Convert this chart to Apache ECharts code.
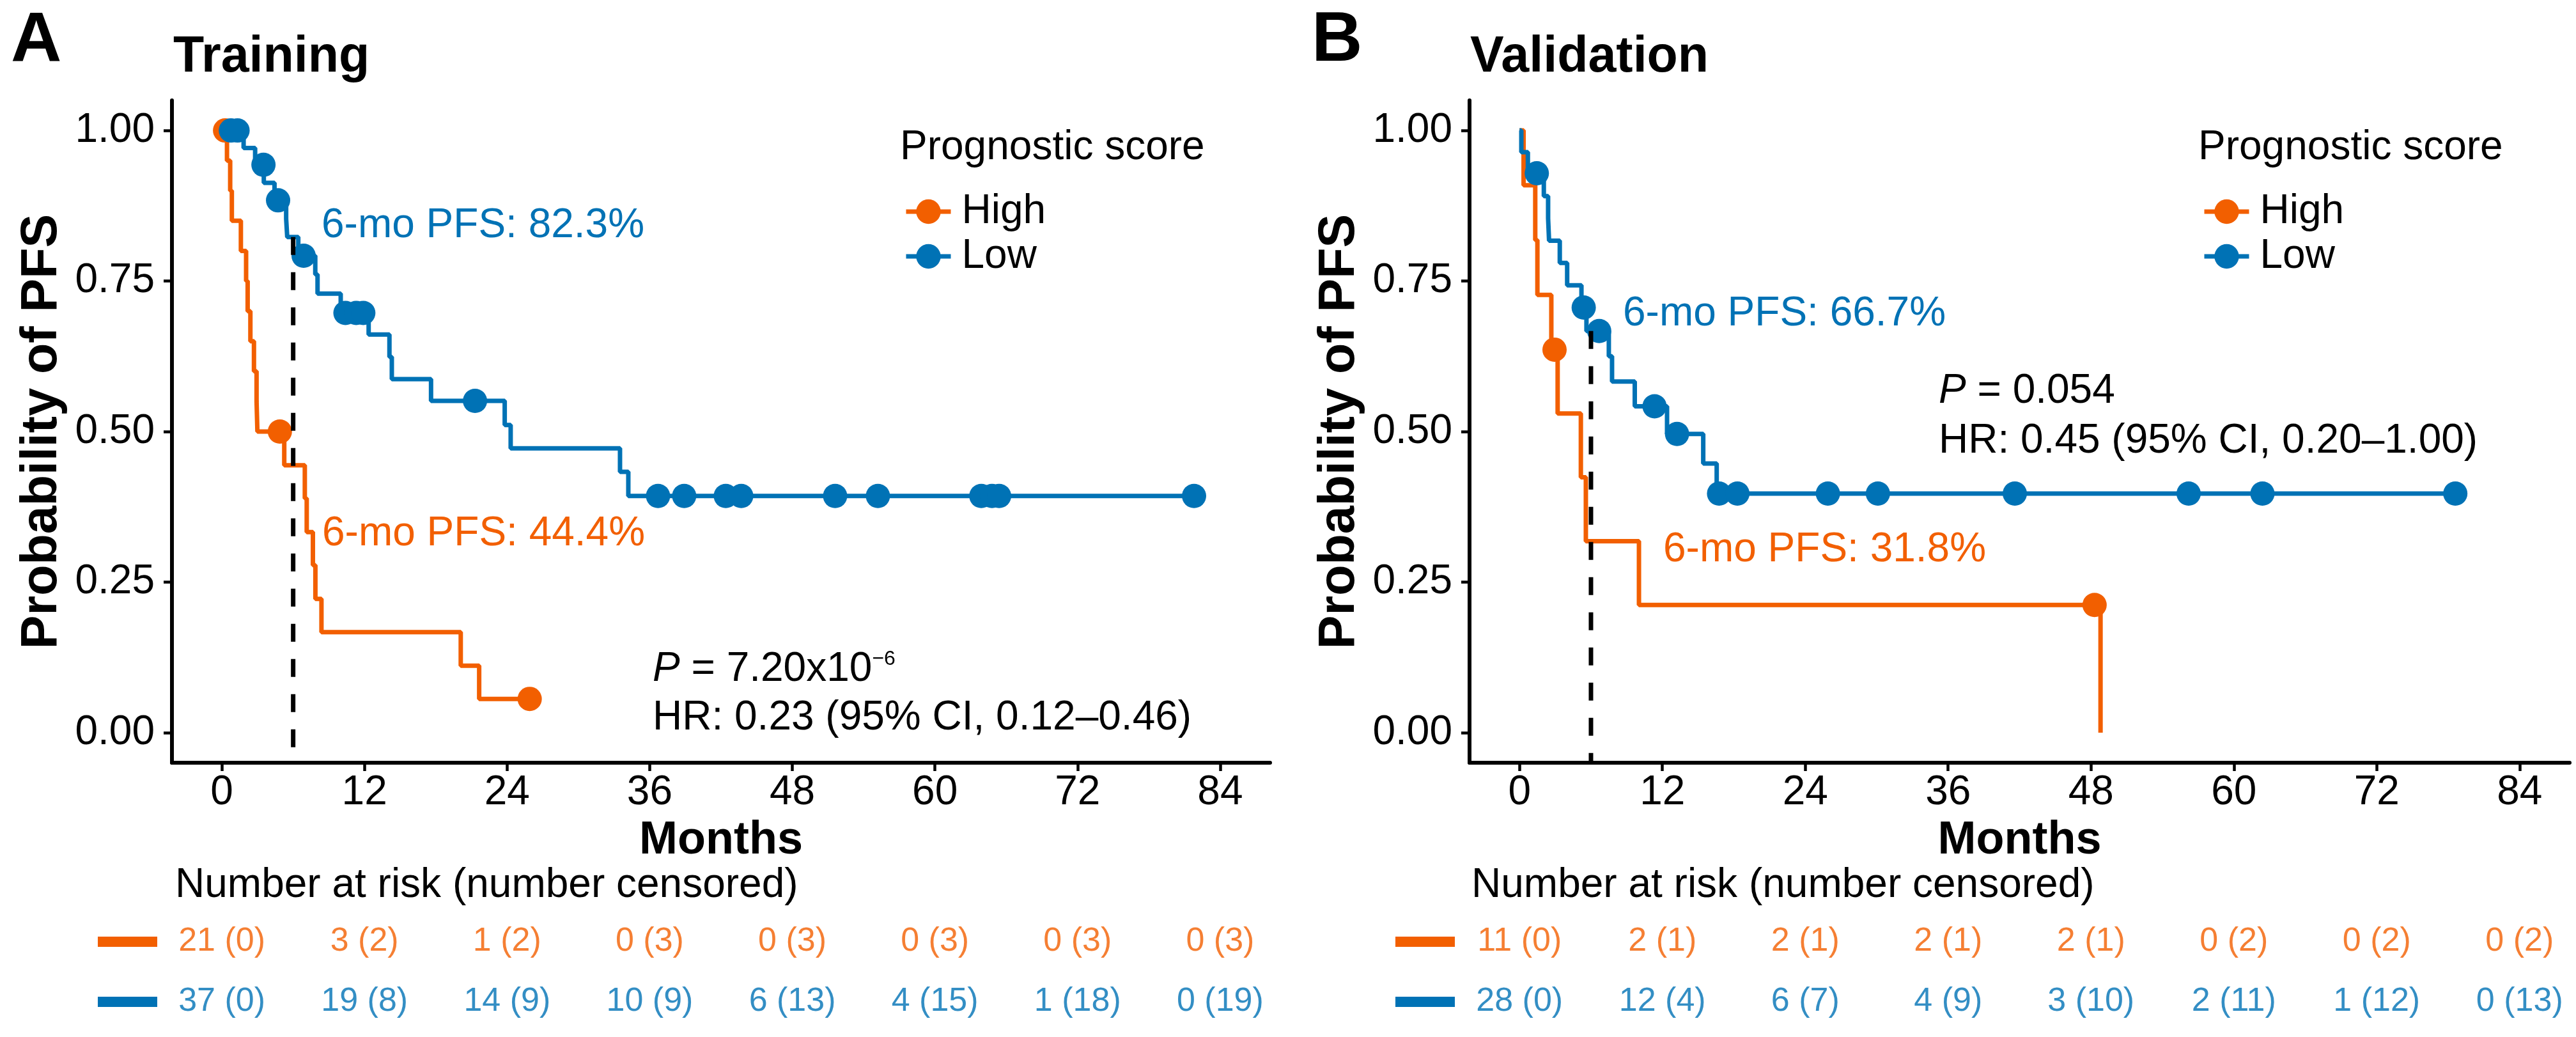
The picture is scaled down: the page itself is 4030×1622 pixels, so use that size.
<!DOCTYPE html>
<html>
<head>
<meta charset="utf-8">
<title>PFS by prognostic score</title>
<script src="https://cdn.jsdelivr.net/npm/echarts@6/dist/echarts.min.js"></script>
<style>
  html, body { margin: 0; padding: 0; background: #fff; }
  #chart { width: 4030px; height: 1622px; }
</style>
</head>
<body>
<div id="chart"></div>
<script>
// ---------------- data ----------------
const MONTH_TICKS = [0, 12, 24, 36, 48, 60, 72, 84];
const PROB_TICKS = [0, 0.25, 0.5, 0.75, 1];
const GROUPS = ['High', 'Low'];

// Training cohort (panel A) – Kaplan-Meier step points (time in months, survival)
const trainHighTime = [0, 0.43, 0.70, 0.84, 1.60, 2.04, 2.17, 2.40, 2.70, 2.92, 2.99, 5.25, 6.98, 7.14, 7.66, 7.87, 8.38, 20.1, 21.65, 25.9];
const trainHighSurv = [1, 0.95, 0.90, 0.85, 0.80, 0.75, 0.70, 0.65, 0.60, 0.55, 0.50, 0.444, 0.389, 0.333, 0.278, 0.222, 0.167, 0.111, 0.056, 0.056];
const trainHighCensTime = [0.27, 4.88, 25.9];
const trainHighCensSurv = [1, 0.50, 0.056];

const trainLowTime = [0, 1.83, 2.8, 3.53, 4.43, 5.41, 5.5, 6.43, 7.86, 8.05, 10.0, 12.35, 14.1, 14.3, 17.6, 23.8, 24.3, 33.5, 34.2, 81.8];
const trainLowSurv = [1, 0.971, 0.943, 0.913, 0.884, 0.853, 0.823, 0.792, 0.761, 0.729, 0.697, 0.661, 0.624, 0.587, 0.551, 0.511, 0.472, 0.433, 0.393, 0.393];
const trainLowCensTime = [0.76, 1.32, 3.5, 4.73, 6.88, 10.4, 11.3, 11.9, 21.3, 36.7, 38.9, 42.4, 43.7, 51.6, 55.2, 63.9, 64.8, 65.4, 81.8];
const trainLowCensSurv = [1, 1, 0.943, 0.884, 0.792, 0.697, 0.697, 0.697, 0.551, 0.393, 0.393, 0.393, 0.393, 0.393, 0.393, 0.393, 0.393, 0.393, 0.393];

const trainHighRisk = [21, 3, 1, 0, 0, 0, 0, 0];
const trainHighCensored = [0, 2, 2, 3, 3, 3, 3, 3];
const trainLowRisk = [37, 19, 14, 10, 6, 4, 1, 0];
const trainLowCensored = [0, 8, 9, 9, 13, 15, 18, 19];
const trainSixMonth = [6, 0.823];

// Validation cohort (panel B)
const valHighTime = [0, 0.34, 1.32, 1.5, 2.67, 3.2, 5.15, 5.57, 10.03, 48.8];
const valHighSurv = [1, 0.909, 0.818, 0.727, 0.636, 0.530, 0.424, 0.318, 0.212, 0];
const valHighCensTime = [2.94, 48.3];
const valHighCensSurv = [0.636, 0.212];

const valLowTime = [0, 0.15, 0.7, 2.04, 2.4, 2.48, 3.38, 4.0, 5.2, 5.62, 7.5, 7.77, 9.68, 12.39, 15.43, 16.56, 78.6];
const valLowSurv = [1, 0.964, 0.929, 0.891, 0.854, 0.817, 0.780, 0.743, 0.706, 0.667, 0.625, 0.583, 0.542, 0.496, 0.447, 0.397, 0.397];
const valLowCensTime = [1.45, 5.39, 6.69, 11.34, 13.23, 16.76, 18.3, 25.9, 30.1, 41.6, 56.2, 62.4, 78.6];
const valLowCensSurv = [0.929, 0.706, 0.667, 0.542, 0.496, 0.397, 0.397, 0.397, 0.397, 0.397, 0.397, 0.397, 0.397];

const valHighRisk = [11, 2, 2, 2, 2, 0, 0, 0];
const valHighCensored = [0, 1, 1, 1, 1, 2, 2, 2];
const valLowRisk = [28, 12, 6, 4, 3, 2, 1, 0];
const valLowCensored = [0, 4, 7, 9, 10, 11, 12, 13];
const valSixMonth = [6, 0.667];

// ---------------- styling ----------------
const ORANGE = '#F25F00';
const BLUE = '#0072B5';
const FONT = '"Liberation Sans", Arial, Helvetica, sans-serif';
const X_MIN = -4.2, X_MAX = 88.2, Y_MIN = -0.05, Y_MAX = 1.05;

const pts = (t, s) => t.map((x, i) => [x, s[i]]);

function curveAxes(gi) {
  return {
    x: {
      gridIndex: gi, type: 'value', min: X_MIN, max: X_MAX,
      axisLine: { show: true, onZero: false, lineStyle: { color: '#000', width: 6 } },
      axisTick: { show: true, length: 13, customValues: MONTH_TICKS, lineStyle: { color: '#000', width: 4.5 } },
      axisLabel: { show: true, customValues: MONTH_TICKS, fontSize: 64, color: '#000', margin: 15, fontFamily: FONT },
      splitLine: { show: false },
      name: 'Months', nameLocation: 'middle', nameGap: 86,
      nameTextStyle: { fontSize: 72, fontWeight: 'bold', color: '#000', fontFamily: FONT }
    },
    y: {
      gridIndex: gi, type: 'value', min: Y_MIN, max: Y_MAX,
      axisLine: { show: true, onZero: false, lineStyle: { color: '#000', width: 6 } },
      axisTick: { show: true, length: 13, customValues: PROB_TICKS, lineStyle: { color: '#000', width: 4.5 } },
      axisLabel: { show: true, customValues: PROB_TICKS, formatter: v => Number(v).toFixed(2), fontSize: 64, color: '#000', margin: 27, fontFamily: FONT },
      splitLine: { show: false },
      name: 'Probability of PFS', nameLocation: 'middle', nameRotate: 90, nameGap: 163,
      nameTextStyle: { fontSize: 79, fontWeight: 'bold', color: '#000', fontFamily: FONT }
    }
  };
}

function riskAxes(gi) {
  return {
    x: { gridIndex: gi, type: 'value', min: X_MIN, max: X_MAX, show: false },
    y: {
      gridIndex: gi, type: 'category', data: GROUPS, inverse: true,
      axisLine: { show: false }, axisTick: { show: false }, splitLine: { show: false },
      axisLabel: {
        margin: 23,
        formatter: v => (v === 'High' ? '{h| }' : '{l| }'),
        rich: {
          h: { width: 93, height: 16, backgroundColor: ORANGE },
          l: { width: 93, height: 16, backgroundColor: BLUE }
        }
      }
    }
  };
}

function panelSeries(ax, rx, d) {
  const line = (name, data, color) => ({
    type: 'line', name, xAxisIndex: ax, yAxisIndex: ax, data, step: 'end',
    showSymbol: false, symbol: 'circle', symbolSize: 38, color,
    lineStyle: { color, width: 7 }, itemStyle: { color }, silent: true, z: 2
  });
  const cens = (name, data, color) => ({
    type: 'scatter', name, xAxisIndex: ax, yAxisIndex: ax, data, symbol: 'circle',
    symbolSize: 38, itemStyle: { color, opacity: 1 }, silent: true, z: 3
  });
  const risk = (grp, n, c, color) => ({
    type: 'scatter', name: 'risk ' + grp, xAxisIndex: rx, yAxisIndex: rx,
    symbolSize: 1, itemStyle: { color: 'rgba(0,0,0,0)' }, silent: true,
    label: { show: true, position: 'inside', fontSize: 52, color, fontFamily: FONT,
      formatter: p => p.value[2] + ' (' + p.value[3] + ')' },
    data: MONTH_TICKS.map((t, i) => [t, grp, n[i], c[i]])
  });
  return [
    line('High', pts(d.hT, d.hS), ORANGE),
    line('Low', pts(d.lT, d.lS), BLUE),
    cens('High censored', pts(d.hcT, d.hcS), ORANGE),
    cens('Low censored', pts(d.lcT, d.lcS), BLUE),
    {
      type: 'line', name: '6-month', xAxisIndex: ax, yAxisIndex: ax,
      data: [d.six, [d.six[0], Y_MIN]], showSymbol: false, symbol: 'none', silent: true, z: 4,
      lineStyle: { color: '#000', width: 7, type: [28, 27] }
    },
    risk('High', d.hR, d.hC, ORANGE),
    risk('Low', d.lR, d.lC, BLUE)
  ];
}

const aA = curveAxes(0), aB = curveAxes(1), rA = riskAxes(2), rB = riskAxes(3);

const txt = (text, x, y, opt) => ({
  type: 'text', x, y, silent: true,
  style: Object.assign({ text, fill: '#000', fontSize: 64, fontFamily: FONT, align: 'left', verticalAlign: 'middle' }, opt || {})
});
const pRich = (rest, sup) => ({
  text: '{i|P}{n| = ' + rest + '}' + (sup ? '{s|' + sup + '}' : ''),
  rich: {
    i: { fontStyle: 'italic', fontSize: 64, lineHeight: 64, fill: '#000', fontFamily: FONT },
    n: { fontSize: 64, lineHeight: 64, fill: '#000', fontFamily: FONT },
    s: { fontSize: 32, lineHeight: 40, verticalAlign: 'top', fill: '#000', fontFamily: FONT }
  }
});

const legendCfg = left => ({
  left, top: 294, orient: 'vertical', data: GROUPS, selectedMode: false,
  itemWidth: 70, itemHeight: 48, itemGap: 6,
  lineStyle: { width: 7 },
  textStyle: { fontSize: 64, color: '#000', fontFamily: FONT, padding: [0, 0, 0, 12] }
});

const option = {
  animation: false,
  backgroundColor: '#fff',
  textStyle: { fontFamily: FONT },
  grid: [
    { left: 269, top: 157, width: 1718, height: 1036 },
    { left: 2299, top: 157, width: 1721, height: 1036 },
    { left: 269, top: 1426, width: 1718, height: 188 },
    { left: 2299, top: 1426, width: 1721, height: 188 }
  ],
  xAxis: [aA.x, aB.x, rA.x, rB.x],
  yAxis: [aA.y, aB.y, rA.y, rB.y],
  legend: [legendCfg(1409), legendCfg(3440)],
  series: [
    ...panelSeries(0, 2, {
      hT: trainHighTime, hS: trainHighSurv, hcT: trainHighCensTime, hcS: trainHighCensSurv,
      lT: trainLowTime, lS: trainLowSurv, lcT: trainLowCensTime, lcS: trainLowCensSurv,
      hR: trainHighRisk, hC: trainHighCensored, lR: trainLowRisk, lC: trainLowCensored, six: trainSixMonth
    }),
    ...panelSeries(1, 3, {
      hT: valHighTime, hS: valHighSurv, hcT: valHighCensTime, hcS: valHighCensSurv,
      lT: valLowTime, lS: valLowSurv, lcT: valLowCensTime, lcS: valLowCensSurv,
      hR: valHighRisk, hC: valHighCensored, lR: valLowRisk, lC: valLowCensored, six: valSixMonth
    })
  ],
  graphic: [
    txt('A', 17, 65, { fontSize: 110, fontWeight: 'bold' }),
    txt('Training', 271, 90, { fontSize: 79, fontWeight: 'bold' }),
    txt('B', 2052, 65, { fontSize: 110, fontWeight: 'bold' }),
    txt('Validation', 2300, 90, { fontSize: 79, fontWeight: 'bold' }),

    txt('Prognostic score', 1408, 231),
    txt('Prognostic score', 3439, 231),

    txt('6-mo PFS: 82.3%', 503, 353, { fill: BLUE }),
    txt('6-mo PFS: 44.4%', 504, 835, { fill: ORANGE }),
    Object.assign(txt('', 1021, 1047), { style: Object.assign({ fill: '#000', fontSize: 64, fontFamily: FONT, align: 'left', verticalAlign: 'middle' }, pRich('7.20x10', '\u22126')) }),
    txt('HR: 0.23 (95% CI, 0.12\u20130.46)', 1021, 1123),

    txt('6-mo PFS: 66.7%', 2539, 491, { fill: BLUE }),
    txt('6-mo PFS: 31.8%', 2602, 860, { fill: ORANGE }),
    Object.assign(txt('', 3033, 612), { style: Object.assign({ fill: '#000', fontSize: 64, fontFamily: FONT, align: 'left', verticalAlign: 'middle' }, pRich('0.054', '')) }),
    txt('HR: 0.45 (95% CI, 0.20\u20131.00)', 3033, 690),

    txt('Number at risk (number censored)', 274, 1385),
    txt('Number at risk (number censored)', 2302, 1385)
  ]
};

const chart = echarts.init(document.getElementById('chart'), null, { renderer: 'canvas', width: 4030, height: 1622 });
chart.setOption(option);
</script>
</body>
</html>
